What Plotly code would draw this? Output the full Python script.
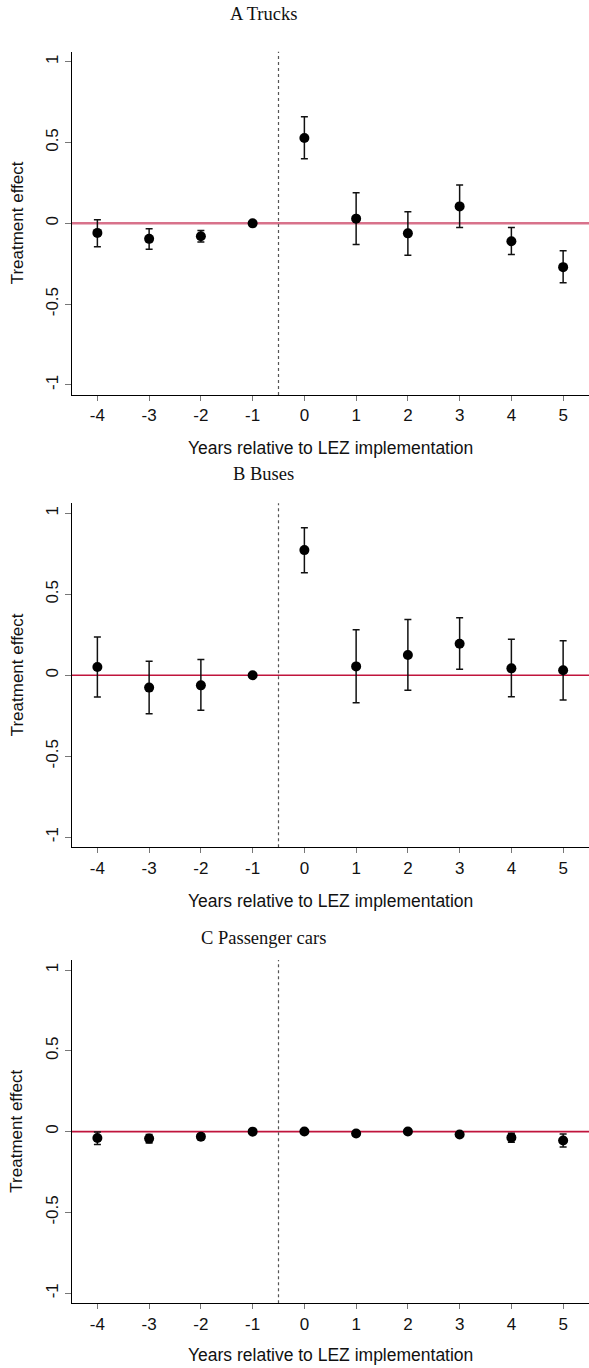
import plotly.graph_objects as go

W, H = 589, 1368

years = [-4, -3, -2, -1, 0, 1, 2, 3, 4, 5]
x_ticklabels = ["-4", "-3", "-2", "-1", "0", "1", "2", "3", "4", "5"]
y_tickvals = [-1, -0.5, 0, 0.5, 1]
y_ticklabels = ["-1", "-0.5", "0", "0.5", "1"]

panel_titles = ["A Trucks", "B Buses", "C Passenger cars"]

trucks_coef = [-0.059, -0.096, -0.080, 0.0, 0.528, 0.029, -0.062, 0.105, -0.111, -0.271]
trucks_lo = [-0.145, -0.160, -0.115, 0.0, 0.399, -0.131, -0.197, -0.025, -0.193, -0.367]
trucks_hi = [0.023, -0.033, -0.045, 0.0, 0.659, 0.189, 0.072, 0.238, -0.026, -0.170]

buses_coef = [0.051, -0.076, -0.062, 0.0, 0.773, 0.055, 0.125, 0.195, 0.043, 0.031]
buses_lo = [-0.134, -0.238, -0.216, 0.0, 0.633, -0.169, -0.092, 0.037, -0.132, -0.152]
buses_hi = [0.236, 0.086, 0.097, 0.0, 0.911, 0.282, 0.345, 0.356, 0.222, 0.214]

cars_coef = [-0.039, -0.043, -0.031, 0.0, 0.001, -0.011, 0.001, -0.018, -0.037, -0.055]
cars_lo = [-0.080, -0.070, -0.048, 0.0, -0.012, -0.025, -0.012, -0.032, -0.065, -0.095]
cars_hi = [-0.002, -0.018, -0.016, 0.0, 0.012, 0.002, 0.014, -0.004, -0.010, -0.014]

panels = [
    (trucks_coef, trucks_lo, trucks_hi),
    (buses_coef, buses_lo, buses_hi),
    (cars_coef, cars_lo, cars_hi),
]

# pixel geometry of each plot area (top, bottom)
plot_px = [(51.7, 395.0), (503.3, 847.3), (960.0, 1303.3)]
left_px = 71.5
title_y_px = [14, 474, 938]
xtitle_y_px = [448, 900.7, 1355]
zero_colors = ["#d8728b", "#c0143c", "#c0143c"]
zero_widths = [2.5, 1.6, 1.6]

SANS = "Liberation Sans, Arial, sans-serif"
SERIF = "Liberation Serif, Times New Roman, serif"


def py(px):
    return 1 - px / H


fig = go.Figure()
layout = dict(
    width=W, height=H,
    margin=dict(l=0, r=0, t=0, b=0),
    paper_bgcolor="white", plot_bgcolor="white",
    showlegend=False,
    font=dict(family=SANS, color="#111"),
)
shapes = []
annotations = []

for i, (coef, lo, hi) in enumerate(panels):
    n = "" if i == 0 else str(i + 1)
    xa, ya = "x" + n, "y" + n
    top, bot = plot_px[i]
    plus = [h - c for h, c in zip(hi, coef)]
    minus = [c - l for c, l in zip(coef, lo)]
    fig.add_trace(go.Scatter(
        x=years, y=coef, mode="markers", xaxis=xa, yaxis=ya,
        marker=dict(color="black", size=10),
        error_y=dict(type="data", array=plus, arrayminus=minus, symmetric=False,
                     color="#111", thickness=1.5, width=3.5),
        cliponaxis=False,
    ))
    layout["xaxis" + n] = dict(
        domain=[left_px / W, 1], anchor=ya, range=[-4.5, 5.5],
        tickmode="array", tickvals=years, ticktext=x_ticklabels,
        ticks="outside", ticklen=5, tickwidth=1, tickcolor="#777",
        showline=True, linecolor="black", linewidth=1,
        showgrid=False, zeroline=False,
        tickfont=dict(family=SANS, size=17, color="#111"),
    )
    layout["yaxis" + n] = dict(
        domain=[py(bot), py(top)], anchor=xa, range=[-1.062, 1.062],
        tickmode="array", tickvals=y_tickvals, ticktext=y_ticklabels,
        tickangle=-90,
        ticks="outside", ticklen=6, tickwidth=1, tickcolor="#777",
        showline=True, linecolor="black", linewidth=1,
        showgrid=False, zeroline=False,
        tickfont=dict(family=SANS, size=17, color="#111"),
    )
    # zero reference line
    shapes.append(dict(type="line", xref=xa + " domain", yref=ya, x0=0, x1=1, y0=0, y1=0,
                       line=dict(color=zero_colors[i], width=zero_widths[i]), layer="below"))
    # vertical dotted line at -0.5
    shapes.append(dict(type="line", xref=xa, yref=ya + " domain", x0=-0.5, x1=-0.5, y0=0, y1=1,
                       line=dict(color="#555", width=1.2, dash="dot"), layer="below"))
    # panel title
    annotations.append(dict(text=panel_titles[i], xref="paper", yref="paper",
                            x=263 / W, y=py(title_y_px[i]), xanchor="center", yanchor="middle",
                            showarrow=False, font=dict(family=SERIF, size=18.5, color="#111")))
    # x-axis title
    annotations.append(dict(text="Years relative to LEZ implementation", xref="paper", yref="paper",
                            x=(left_px + W) / 2 / W, y=py(xtitle_y_px[i]),
                            xanchor="center", yanchor="middle",
                            showarrow=False, font=dict(family=SANS, size=17.5, color="#111")))
    # y-axis title
    annotations.append(dict(text="Treatment effect", xref="paper", yref="paper",
                            x=17 / W, y=py((top + bot) / 2), xanchor="center", yanchor="middle",
                            textangle=-90, showarrow=False,
                            font=dict(family=SANS, size=17, color="#111")))

layout["shapes"] = shapes
layout["annotations"] = annotations
fig.update_layout(**layout)
fig.write_html("out.html")
